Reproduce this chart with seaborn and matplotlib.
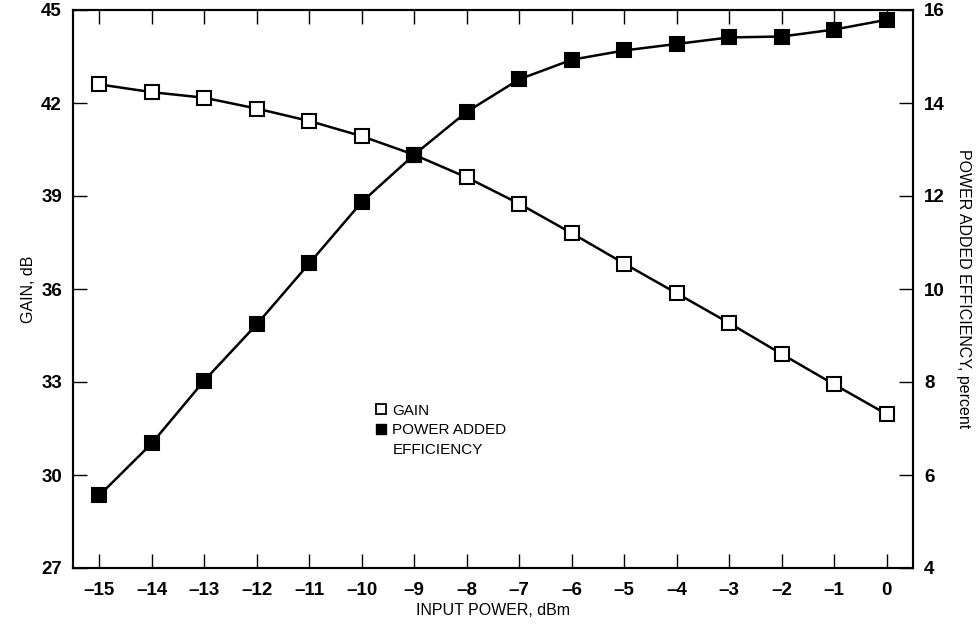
import matplotlib
matplotlib.use("Agg")
import matplotlib.pyplot as plt
from matplotlib.lines import Line2D
import seaborn as sns
import pandas as pd

input_power = [-15, -14, -13, -12, -11, -10, -9, -8, -7, -6, -5, -4, -3, -2, -1, 0]
gain_db = [42.60, 42.35, 42.17, 41.82, 41.42, 40.93, 40.33, 39.60, 38.75, 37.80,
           36.82, 35.86, 34.90, 33.90, 32.92, 31.96]
pae_pct = [5.56, 6.68, 8.03, 9.24, 10.55, 11.87, 12.89, 13.81, 14.51, 14.93,
           15.13, 15.27, 15.41, 15.43, 15.58, 15.79]
x_ticks = [-15, -14, -13, -12, -11, -10, -9, -8, -7, -6, -5, -4, -3, -2, -1, 0]
gain_ticks = [27, 30, 33, 36, 39, 42, 45]
pae_ticks = [4, 6, 8, 10, 12, 14, 16]
legend_labels = ["GAIN", "POWER ADDED", "EFFICIENCY"]

sns.set_theme(style="white")
plt.rcParams["font.family"] = ["Liberation Sans", "DejaVu Sans"]
plt.rcParams["text.color"] = "black"
plt.rcParams["axes.labelcolor"] = "black"

df = pd.DataFrame({"x": input_power, "gain": gain_db, "pae": pae_pct})

fig = plt.figure(figsize=(9.79, 6.24), dpi=100)
ax = fig.add_axes([73 / 979, 1 - 568 / 624, (913 - 73) / 979, (568 - 10) / 624])
ax2 = ax.twinx()

line_kw = dict(color="black", linewidth=1.8, marker="s", markersize=9.5,
               markeredgecolor="black", markeredgewidth=1.5)
sns.lineplot(data=df, x="x", y="gain", ax=ax, markerfacecolor="white", **line_kw)
sns.lineplot(data=df, x="x", y="pae", ax=ax2, markerfacecolor="black", **line_kw)

ax.set_xlim(-15.5, 0.5)
ax.set_ylim(27, 45)
ax2.set_ylim(4, 16)
ax.set_xticks(x_ticks)
ax.set_xticklabels([f"\u2013{-v}" if v < 0 else str(v) for v in x_ticks])
ax.set_yticks(gain_ticks)
ax2.set_yticks(pae_ticks)

for a in (ax, ax2):
    for s in a.spines.values():
        s.set_linewidth(1.5)
        s.set_color("black")
    a.grid(False)

tick_font = dict(labelsize=13.5, length=10, width=1.0, direction="in", colors="black")
ax.tick_params(axis="x", top=True, bottom=True, pad=10, **tick_font)
ax.tick_params(axis="y", left=True, right=False, pad=8, **tick_font)
ax2.tick_params(axis="y", right=True, left=False, pad=8, **tick_font)
for lab in ax.get_xticklabels() + ax.get_yticklabels() + ax2.get_yticklabels():
    lab.set_fontweight("bold")

ax.set_xlabel("INPUT POWER, dBm", fontsize=11.5, labelpad=3)
ax.set_ylabel("GAIN, dB", fontsize=11.5, labelpad=4)
ax2.set_ylabel("POWER ADDED EFFICIENCY, percent", fontsize=11.5, rotation=270,
               va="bottom", labelpad=8)

handles = [
    Line2D([], [], linestyle="none", marker="s", markersize=7, markerfacecolor="white",
           markeredgecolor="black", markeredgewidth=1.3),
    Line2D([], [], linestyle="none", marker="s", markersize=7, markerfacecolor="black",
           markeredgecolor="black"),
    Line2D([], [], linestyle="none", marker=None),
]
ax.legend(handles, legend_labels, loc="upper left",
          bbox_to_anchor=((364 - 73) / 840, (568 - 393) / 558), frameon=False,
          fontsize=11, handlelength=0.8, handletextpad=0.35, labelspacing=0.38,
          borderpad=0.2)

fig.savefig("out.png", dpi=100)
